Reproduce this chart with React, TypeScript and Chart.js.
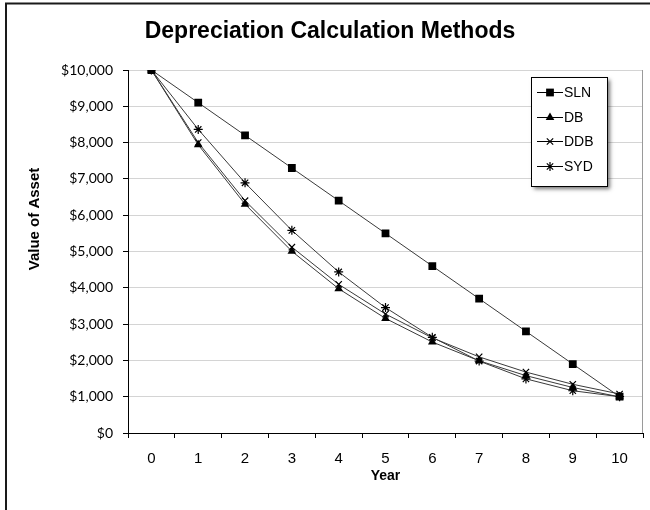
import React, { useEffect, useRef } from 'react';
import { Chart, registerables } from 'chart.js';

Chart.register(...registerables);

const years = ['0', '1', '2', '3', '4', '5', '6', '7', '8', '9', '10'];
const slnValues = [10000, 9100, 8200, 7300, 6400, 5500, 4600, 3700, 2800, 1900, 1000];
const dbValues = [10000, 7940, 6304, 5006, 3975, 3156, 2506, 1990, 1580, 1254, 996];
const ddbValues = [10000, 8000, 6400, 5120, 4096, 3277, 2621, 2097, 1678, 1342, 1074];
const sydValues = [10000, 8364, 6891, 5582, 4436, 3455, 2636, 1982, 1491, 1164, 1000];
const seriesNames = ['SLN', 'DB', 'DDB', 'SYD'];
const titleText = 'Depreciation Calculation Methods';
const yTitleText = 'Value of Asset';
const xTitleText = 'Year';

const LINE_COLOR = '#3a3a3a';
const styles = ['rect', 'triangle', 'crossRot', 'star'];
const radii = [5.5, 5, 4.5, 4.5];

function drawMarker(ctx: CanvasRenderingContext2D, style: string, x: number, y: number, r: number) {
  ctx.save();
  ctx.fillStyle = '#000';
  ctx.strokeStyle = '#000';
  ctx.lineWidth = 1.2;
  ctx.beginPath();
  if (style === 'rect') {
    const s = r * Math.SQRT1_2;
    ctx.rect(x - s, y - s, 2 * s, 2 * s);
    ctx.fill();
  } else if (style === 'triangle') {
    for (let i = 0; i < 3; i++) {
      const a = -Math.PI / 2 + (i * 2 * Math.PI) / 3;
      const px = x + Math.cos(a) * r;
      const py = y + Math.sin(a) * r;
      if (i === 0) ctx.moveTo(px, py);
      else ctx.lineTo(px, py);
    }
    ctx.closePath();
    ctx.fill();
  } else if (style === 'crossRot') {
    const d = r * Math.SQRT1_2;
    ctx.moveTo(x - d, y - d);
    ctx.lineTo(x + d, y + d);
    ctx.moveTo(x - d, y + d);
    ctx.lineTo(x + d, y - d);
    ctx.stroke();
  } else {
    const d = r * Math.SQRT1_2;
    ctx.moveTo(x - d, y - d);
    ctx.lineTo(x + d, y + d);
    ctx.moveTo(x - d, y + d);
    ctx.lineTo(x + d, y - d);
    ctx.moveTo(x, y - r);
    ctx.lineTo(x, y + r);
    ctx.stroke();
  }
  ctx.restore();
}

const decorPlugin = {
  id: 'decor',
  beforeDraw(chart: any) {
    const { ctx, width, height } = chart;
    ctx.save();
    ctx.fillStyle = '#fff';
    ctx.fillRect(0, 0, width, height);
    ctx.restore();
  },
  beforeDatasetsDraw(chart: any) {
    const { ctx, chartArea } = chart;
    ctx.save();
    ctx.strokeStyle = '#9a9a9a';
    ctx.lineWidth = 1;
    ctx.beginPath();
    ctx.moveTo(Math.round(chartArea.right) - 0.5, chartArea.top);
    ctx.lineTo(Math.round(chartArea.right) - 0.5, chartArea.bottom);
    ctx.stroke();
    ctx.restore();
  },
  afterDraw(chart: any) {
    const { ctx, width, height } = chart;
    ctx.save();
    // outer border
    ctx.strokeStyle = '#1a1a1a';
    ctx.lineWidth = 2;
    ctx.beginPath();
    ctx.moveTo(6, height);
    ctx.lineTo(6, 3.5);
    ctx.lineTo(width, 3.5);
    ctx.stroke();

    // title
    ctx.fillStyle = '#000';
    ctx.font = 'bold 23px "Liberation Sans", Arial, sans-serif';
    ctx.textAlign = 'center';
    ctx.textBaseline = 'middle';
    ctx.fillText(titleText, 330, 32);

    // y axis title
    ctx.save();
    ctx.translate(35, 219);
    ctx.rotate(-Math.PI / 2);
    ctx.font = 'bold 15px "Liberation Sans", Arial, sans-serif';
    ctx.textAlign = 'center';
    ctx.textBaseline = 'middle';
    ctx.fillText(yTitleText, 0, 0);
    ctx.restore();

    // legend box
    const bx = 531, by = 77, bw = 76, bh = 109;
    ctx.save();
    ctx.shadowColor = 'rgba(0,0,0,0.55)';
    ctx.shadowBlur = 4;
    ctx.shadowOffsetX = 3;
    ctx.shadowOffsetY = 3;
    ctx.fillStyle = '#fff';
    ctx.fillRect(bx, by, bw, bh);
    ctx.restore();
    ctx.strokeStyle = '#000';
    ctx.lineWidth = 1;
    ctx.strokeRect(bx + 0.5, by + 0.5, bw, bh);

    const rowsY = [92, 117, 141, 166];
    ctx.font = '14px "Liberation Sans", Arial, sans-serif';
    ctx.textAlign = 'left';
    ctx.textBaseline = 'middle';
    seriesNames.forEach((name, i) => {
      const y = rowsY[i];
      ctx.strokeStyle = '#000';
      ctx.lineWidth = 1;
      ctx.beginPath();
      ctx.moveTo(537, y + 0.5);
      ctx.lineTo(563, y + 0.5);
      ctx.stroke();
      drawMarker(ctx, styles[i], 550, y + 0.5, radii[i]);
      ctx.fillStyle = '#000';
      ctx.fillText(name, 564, y + 1);
    });
    ctx.restore();
  },
};

export default function App() {
  const ref = useRef<HTMLCanvasElement>(null);

  useEffect(() => {
    document.body.style.margin = '0';
    const allValues = [slnValues, dbValues, ddbValues, sydValues];
    const chart = new Chart(ref.current as HTMLCanvasElement, {
      type: 'line',
      data: {
        labels: years,
        datasets: seriesNames.map((name, i) => ({
          label: name,
          data: allValues[i],
          borderColor: LINE_COLOR,
          borderWidth: 1,
          backgroundColor: '#000',
          pointBackgroundColor: '#000',
          pointBorderColor: '#000',
          pointBorderWidth: i >= 2 ? 1.2 : 0,
          pointStyle: styles[i] as any,
          pointRadius: radii[i],
          tension: 0,
          fill: false,
        })),
      },
      options: {
        responsive: false,
        animation: false,
        layout: { padding: { left: 0, right: 7, top: 70, bottom: 0 } },
        plugins: {
          legend: { display: false },
          title: { display: false },
          tooltip: { enabled: false },
        },
        scales: {
          x: {
            type: 'category',
            offset: true,
            grid: {
              display: true,
              drawOnChartArea: false,
              drawTicks: true,
              tickLength: 5,
              tickColor: '#000',
              offset: true,
            },
            border: { color: '#000', width: 1 },
            ticks: {
              color: '#000',
              padding: 12,
              font: { family: '"Liberation Sans", Arial, sans-serif', size: 15 },
              maxRotation: 0,
            },
            title: {
              display: true,
              text: xTitleText,
              color: '#000',
              font: { family: '"Liberation Sans", Arial, sans-serif', size: 14, weight: 'bold' },
              padding: { top: 0, bottom: 25 },
            },
            afterFit: (scale: any) => {
              scale.height = 77;
            },
          },
          y: {
            min: 0,
            max: 10000,
            grid: {
              color: '#d4d4d4',
              drawTicks: true,
              tickLength: 5,
              tickColor: '#000',
            },
            border: { color: '#000', width: 1 },
            ticks: {
              stepSize: 1000,
              color: '#000',
              padding: 10,
              font: { family: 'Lato, "Open Sans", sans-serif', size: 14 },
              callback: (v: any) => '$' + Number(v).toLocaleString('en-US'),
            },
            title: { display: false },
            afterFit: (scale: any) => {
              scale.width = 128;
            },
          },
        },
      },
      plugins: [decorPlugin],
    });
    return () => chart.destroy();
  }, []);

  return (
    <div style={{ width: 650, height: 510 }}>
      <canvas ref={ref} width={650} height={510} style={{ width: 650, height: 510, display: 'block' }} />
    </div>
  );
}
